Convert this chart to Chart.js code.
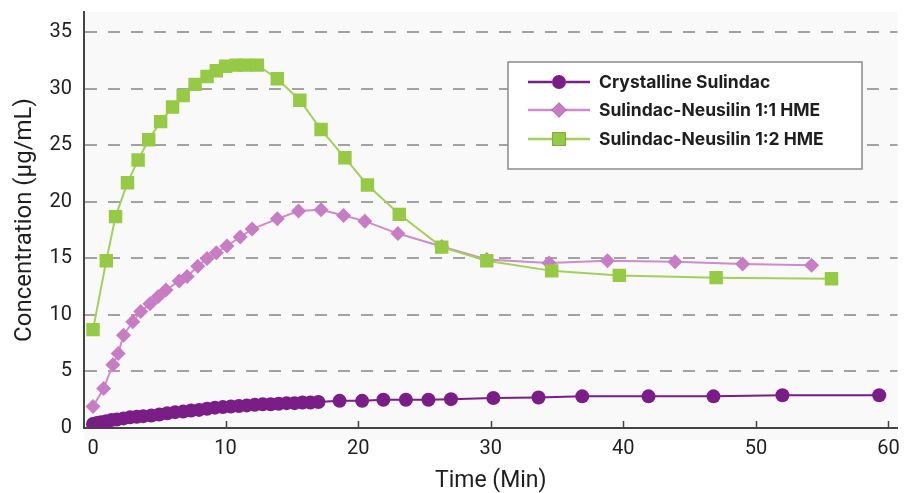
<!DOCTYPE html>
<html><head><meta charset="utf-8">
<script src="https://cdn.jsdelivr.net/npm/chart.js@4.4.1/dist/chart.umd.min.js"></script>
<style>html,body{margin:0;padding:0;background:#fff;}#wrap{width:907px;height:493px;position:relative;}</style>
</head><body><div id="wrap"><canvas id="c" width="907" height="493"></canvas></div>
<script>
const seriesNames = ['Crystalline Sulindac', 'Sulindac-Neusilin 1:1 HME', 'Sulindac-Neusilin 1:2 HME'];
const xTickValues = [0, 10, 20, 30, 40, 50, 60];
const yTickValues = [0, 5, 10, 15, 20, 25, 30, 35];

const crystTime = [0,0.3,0.6,1.0,1.4,1.8,2.3,2.8,3.3,3.8,4.4,5.0,5.6,6.2,6.8,7.4,8.0,8.6,9.2,9.8,10.4,11.0,11.6,12.2,12.8,13.4,14.0,14.6,15.2,15.8,16.4,17.0,18.6,20.3,21.9,23.6,25.3,27.0,30.2,33.6,36.9,41.9,46.8,52.0,59.3];
const crystConc = [0.35,0.45,0.5,0.6,0.7,0.75,0.85,0.95,1.0,1.05,1.1,1.2,1.3,1.4,1.45,1.55,1.6,1.7,1.8,1.85,1.9,1.95,2.0,2.05,2.1,2.1,2.15,2.2,2.2,2.25,2.25,2.3,2.4,2.4,2.5,2.5,2.5,2.55,2.65,2.7,2.8,2.8,2.8,2.9,2.9];

const hme11Time = [0,0.8,1.5,1.9,2.3,3.0,3.6,4.3,4.9,5.5,6.5,7.1,7.9,8.6,9.3,10.1,11.1,12.0,13.9,15.5,17.2,18.9,20.5,23.0,26.3,29.7,34.4,38.8,43.9,49.0,54.2];
const hme11Conc = [1.9,3.5,5.6,6.6,8.2,9.4,10.3,11.0,11.6,12.2,13.0,13.4,14.3,15.0,15.5,16.1,16.9,17.6,18.5,19.2,19.3,18.8,18.3,17.2,16.05,14.9,14.6,14.8,14.7,14.5,14.4];

const hme12Time = [0,1.0,1.7,2.6,3.4,4.2,5.1,6.0,6.8,7.7,8.6,9.3,10.0,10.8,11.5,12.4,13.9,15.6,17.2,19.0,20.7,23.1,26.3,29.7,34.6,39.7,47.0,55.7];
const hme12Conc = [8.7,14.8,18.7,21.7,23.7,25.5,27.1,28.4,29.4,30.4,31.1,31.6,32.0,32.1,32.1,32.1,30.9,29.0,26.4,23.9,21.5,18.9,16.0,14.8,13.9,13.5,13.3,13.2];

const pts = (xs, ys) => xs.map((x, i) => ({x, y: ys[i]}));

const FONT = 'Roboto, "Liberation Sans", Arial, sans-serif';
const LEGEND_FONT = 'Inter, Roboto, "Liberation Sans", Arial, sans-serif';

const areaBg = {
  id: 'areaBg',
  beforeDraw(chart) {
    const {ctx, chartArea: a} = chart;
    ctx.save();
    ctx.fillStyle = '#f9f9f9';
    ctx.fillRect(a.left, a.top, a.right - a.left, a.bottom - a.top + 12);
    ctx.restore();
  }
};

const innerTicks = {
  id: 'innerTicks',
  afterDraw(chart) {
    const {ctx, chartArea: a} = chart;
    const xs = chart.scales.x;
    ctx.save();
    ctx.strokeStyle = '#444';
    ctx.lineWidth = 1.5;
    xs.ticks.forEach(t => {
      const px = Math.round(xs.getPixelForValue(t.value)) + 0.5;
      ctx.beginPath();
      ctx.moveTo(px, a.bottom);
      ctx.lineTo(px, a.bottom - 7);
      ctx.stroke();
    });
    ctx.restore();
  }
};

const boxLegend = {
  id: 'boxLegend',
  afterDraw(chart) {
    const ctx = chart.ctx;
    const x0 = 508, y0 = 62, w = 354, h = 107;
    ctx.save();
    ctx.fillStyle = '#ffffff';
    ctx.fillRect(x0, y0, w, h);
    ctx.strokeStyle = '#8a8a8a';
    ctx.lineWidth = 1.5;
    ctx.strokeRect(x0, y0, w, h);
    const rows = [82, 110, 139];
    chart.data.datasets.forEach((ds, i) => {
      const y = rows[i];
      ctx.strokeStyle = ds.borderColor;
      ctx.lineWidth = 2.5;
      ctx.beginPath(); ctx.moveTo(528, y); ctx.lineTo(590, y); ctx.stroke();
      ctx.beginPath();
      Chart.helpers.drawPoint(ctx, {pointStyle: ds.pointStyle, radius: ds.pointRadius, borderWidth: 0, rotation: 0}, 559, y);
      ctx.fillStyle = ds.pointBackgroundColor;
      ctx.fill();
      ctx.fillStyle = '#1e1e1e';
      ctx.font = 'bold 17.5px ' + LEGEND_FONT;
      ctx.textBaseline = 'middle';
      ctx.fillText(ds.label, 599, y + 1);
    });
    ctx.restore();
  }
};

new Chart(document.getElementById('c'), {
  type: 'line',
  data: {
    datasets: [
      {label: seriesNames[0], data: pts(crystTime, crystConc), borderColor: '#7a1d86', backgroundColor: '#7a1d86', pointBackgroundColor: '#7a1d86', pointBorderColor: '#7a1d86', pointStyle: 'circle', pointRadius: 7, borderWidth: 2, pointBorderWidth: 0, order: 2},
      {label: seriesNames[1], data: pts(hme11Time, hme11Conc), borderColor: '#cf8bcb', backgroundColor: '#c87cc4', pointBackgroundColor: '#c87cc4', pointBorderColor: '#c87cc4', pointStyle: 'rectRot', pointRadius: 7.5, borderWidth: 2, pointBorderWidth: 0, order: 1},
      {label: seriesNames[2], data: pts(hme12Time, hme12Conc), borderColor: '#a3d05a', backgroundColor: '#96c944', pointBackgroundColor: '#96c944', pointBorderColor: '#96c944', pointStyle: 'rect', pointRadius: 9.5, borderWidth: 2, pointBorderWidth: 0, order: 0}
    ]
  },
  options: {
    responsive: false,
    animation: false,
    devicePixelRatio: 1,
    layout: {padding: {left: 0, top: 12, right: 1, bottom: 0}},
    elements: {line: {tension: 0}},
    plugins: {legend: {display: false}, tooltip: {enabled: false}},
    scales: {
      x: {
        type: 'linear', min: -0.68, max: 60.68,
        afterBuildTicks: ax => { ax.ticks = xTickValues.map(v => ({value: v})); },
        afterFit: ax => { ax.height = 65; ax.paddingLeft = 0; ax.paddingRight = 0; },
        border: {display: true, color: '#444', width: 2},
        grid: {display: true, drawOnChartArea: false, drawTicks: false, color: 'rgba(0,0,0,0)'},
        ticks: {padding: 9, color: '#1e1e1e', font: {family: FONT, size: 20}, maxRotation: 0},
        title: {display: true, text: 'Time (Min)', color: '#1e1e1e', font: {family: FONT, size: 23, lineHeight: 1}, padding: {top: 0, bottom: 0}}
      },
      y: {
        type: 'linear', min: 0, max: 36.8,
        afterBuildTicks: ax => { ax.ticks = yTickValues.map(v => ({value: v})); },
        afterFit: ax => { ax.width = 84; ax.paddingTop = 0; ax.paddingBottom = 0; },
        border: {display: true, color: '#444', width: 2, dash: [12, 11]},
        grid: {drawTicks: false, color: ctx => ctx.tick && ctx.tick.value === 0 ? 'rgba(0,0,0,0)' : '#a2a2a2', lineWidth: 2},
        ticks: {padding: 12, color: '#1e1e1e', font: {family: FONT, size: 20}},
        title: {display: true, text: 'Concentration (µg/mL)', color: '#1e1e1e', font: {family: FONT, size: 24, lineHeight: 1.2}, padding: {top: 11, bottom: 0}}
      }
    }
  },
  plugins: [areaBg, innerTicks, boxLegend]
});
</script></body></html>
